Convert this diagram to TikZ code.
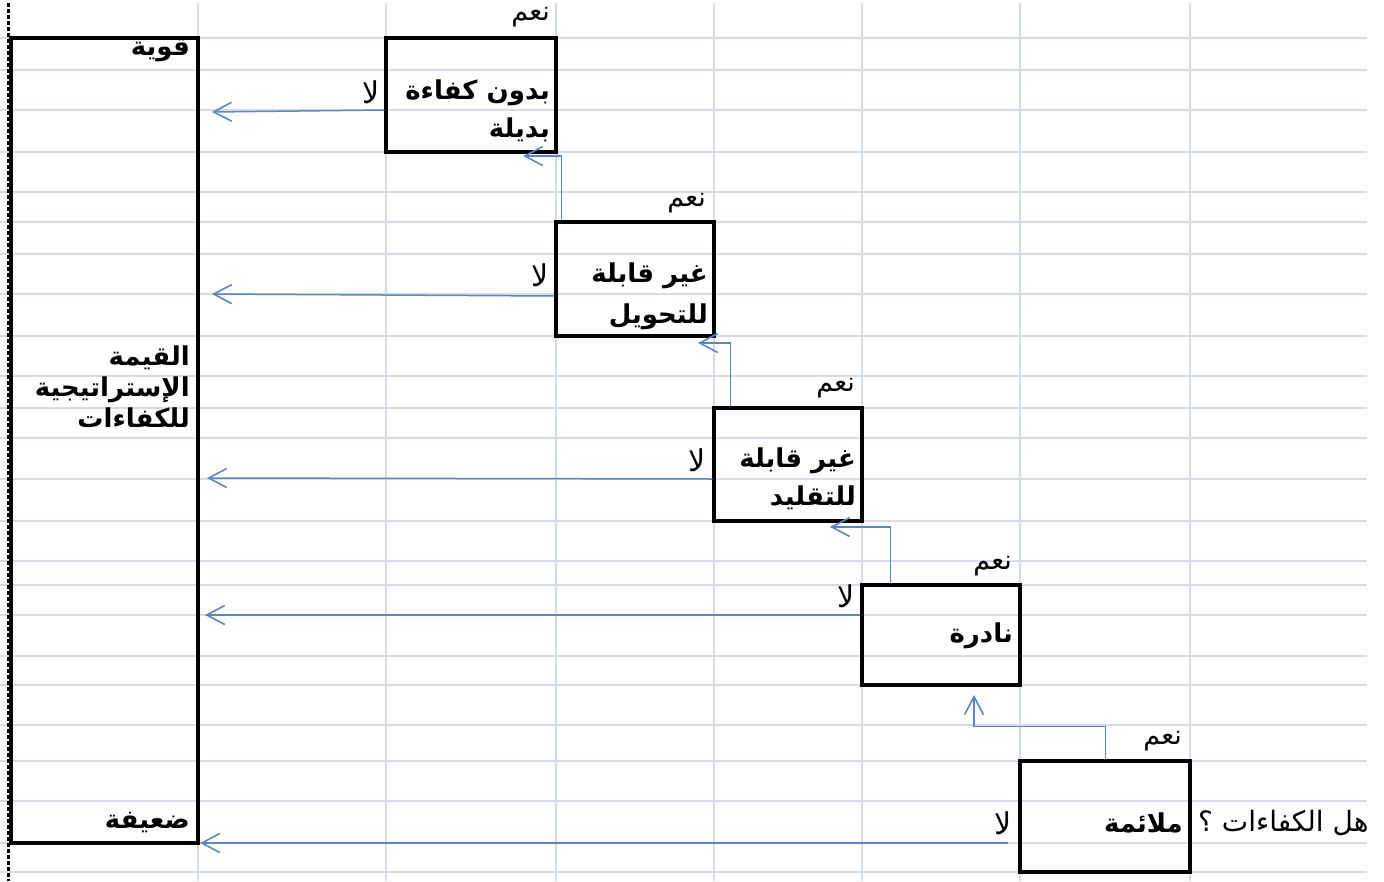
\documentclass[tikz,border=0pt]{standalone}
\usepackage{fontspec}
\newfontfamily\arabicfont[Script=Arabic]{DejaVu Sans}
\TeXXeTstate=1
\usetikzlibrary{arrows.meta}
\definecolor{gridc}{HTML}{D5DBE8}
\definecolor{arrowblue}{HTML}{5A86C2}
\begin{document}
\begin{tikzpicture}[x=1pt,y=-1pt,
  gridline/.style={draw=gridc,line width=1.6pt},
  cellbox/.style={draw=black,line width=3.2pt,rectangle,inner sep=0pt},
  bold/.style={font=\arabicfont\bfseries\fontsize{26}{38}\selectfont,inner sep=0pt,align=right},
  yes/.style={font=\arabicfont\fontsize{27}{30}\selectfont,inner sep=0pt},
  no/.style={font=\arabicfont\fontsize{30}{30}\selectfont,inner sep=0pt},
  arr/.style={draw=arrowblue,line width=1.5pt,-{Straight Barb[length=18pt,width=19pt,line width=1.6pt]}},
]
\useasboundingbox (0,0) rectangle (1384,881);
% grid
\foreach \yy in {38,70,110,152,192,222,254,294,336,376,408,438,479,521,561,585,615,656,685,725,761,801,843,872}
  \draw[gridline] (0,\yy) -- (1367,\yy);
\foreach \xx in {198,386,556,714,862,1020,1190}
  \draw[gridline] (\xx,3) -- (\xx,881);
% boxes
\node[cellbox,minimum width=187pt,minimum height=805pt] (big) at (104.5,440.5) {};
\node[cellbox,minimum width=170pt,minimum height=114pt] (b1) at (471,95) {};
\node[cellbox,minimum width=158pt,minimum height=114pt] (b2) at (635,279) {};
\node[cellbox,minimum width=148pt,minimum height=113pt] (b3) at (788,464.5) {};
\node[cellbox,minimum width=158pt,minimum height=100pt] (b4) at (941,635) {};
\node[cellbox,minimum width=170pt,minimum height=111pt] (b5) at (1105,816.5) {};
% page break dashed line
\draw[black,line width=3pt,dash pattern=on 4pt off 2pt] (8.5,3) -- (8.5,881);
% box texts
\node[bold,anchor=east] (t1) at (550,111) {\beginR بدون كفاءة\endR\\\beginR بديلة\endR};
\node[bold,anchor=east,font=\arabicfont\bfseries\fontsize{26}{41}\selectfont] (t2) at (708,296) {\beginR غير قابلة\endR\\\beginR للتحويل\endR};
\node[bold,anchor=east] (t3) at (856,479) {\beginR غير قابلة\endR\\\beginR للتقليد\endR};
\node[bold,anchor=east] (t4) at (1013,636) {\beginR نادرة\endR};
\node[bold,anchor=east] (t5) at (1183,823) {\beginR ملائمة\endR};
% big box texts
\node[bold,anchor=east] (strong) at (190,50) {\beginR قوية\endR};
\node[bold,anchor=east,font=\arabicfont\bfseries\fontsize{26}{31}\selectfont] (value) at (190,387) {\beginR القيمة\endR\\\beginR الإستراتيجية\endR\\\beginR للكفاءات\endR};
\node[bold,anchor=east] (weak) at (190,822) {\beginR ضعيفة\endR};
% yes labels
\node[yes,anchor=east] (y1) at (550,17) {\beginR نعم\endR};
\node[yes,anchor=east] (y2) at (706,203) {\beginR نعم\endR};
\node[yes,anchor=east] (y3) at (855,388) {\beginR نعم\endR};
\node[yes,anchor=east] (y4) at (1012,566) {\beginR نعم\endR};
\node[yes,anchor=east] (y5) at (1182,741) {\beginR نعم\endR};
% no labels
\node[no] (n1) at (371,92) {\beginR لا\endR};
\node[no] (n2) at (540,275) {\beginR لا\endR};
\node[no] (n3) at (697,460) {\beginR لا\endR};
\node[no] (n4) at (846,596) {\beginR لا\endR};
\node[no] (n5) at (1003,823) {\beginR لا\endR};
% question
\begin{scope}
\clip (1192,790) rectangle (1367,860);
\node[yes,anchor=west,font=\arabicfont\fontsize{28}{30}\selectfont] (q) at (1198,823) {\beginR هل الكفاءات ؟\endR};
\end{scope}
% "no" arrows
\coordinate (e1) at (212,112);
\coordinate (e2) at (212,294);
\coordinate (e3) at (207,478);
\coordinate (e4) at (205,615);
\coordinate (e5) at (200,843);
\draw[arr] ([yshift=-15pt]b1.west) -- (e1);
\draw[arr] ([yshift=-17pt]b2.west) -- (e2);
\draw[arr] ([yshift=-14.5pt]b3.west) -- (e3);
\draw[arr] ([yshift=20pt]b4.west) -- (e4);
\draw[arr] ([xshift=-10pt,yshift=-26.5pt]b5.west) -- (e5);
% "yes" arrows
\coordinate (u1) at (523,156);
\coordinate (u2) at (698,343);
\coordinate (u3) at (830,527);
\coordinate (u4) at (974,695);
\draw[arr] ([xshift=7pt]b2.north west) |- (u1);
\draw[arr] ([xshift=18pt]b3.north west) |- (u2);
\draw[arr] ([xshift=30pt]b4.north west) |- (u3);
\draw[arr] ([xshift=87pt]b5.north west) -- ++(0,-33) -| (u4);
\end{tikzpicture}
\end{document}
